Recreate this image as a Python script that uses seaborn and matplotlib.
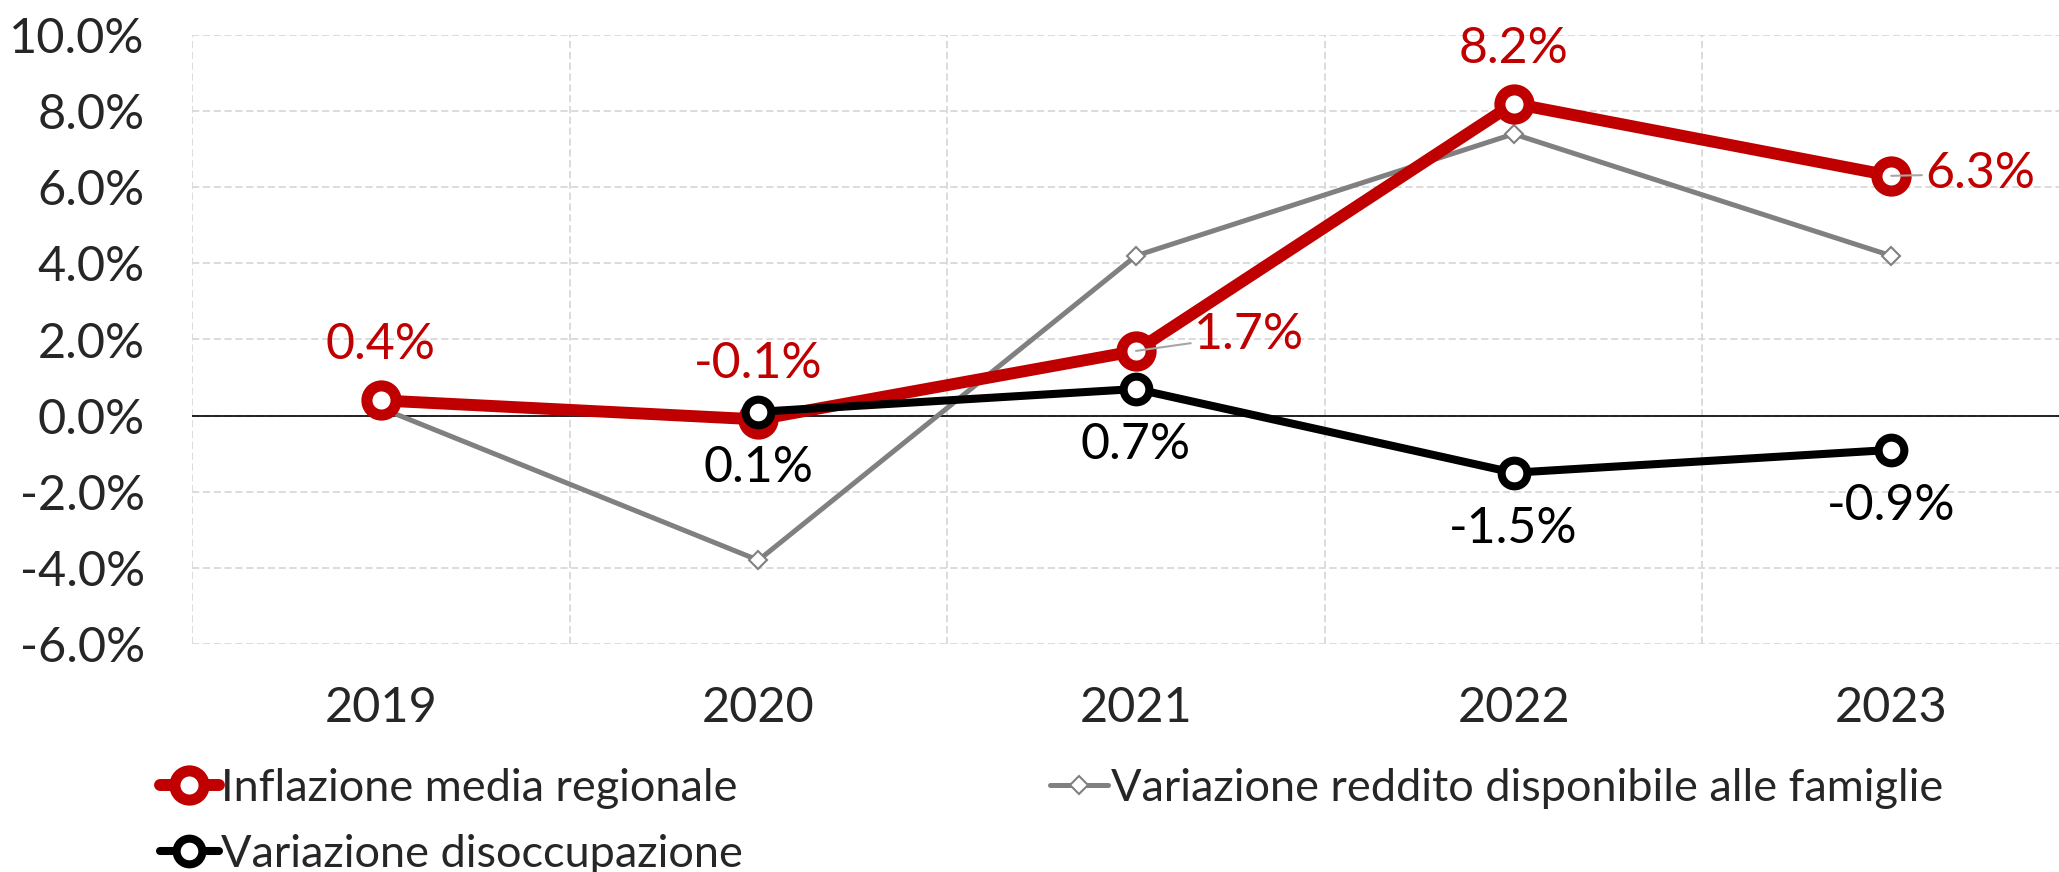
import matplotlib
import matplotlib.pyplot as plt
import numpy as np
import pandas as pd
import seaborn as sns

matplotlib.use('agg')

years = [2019, 2020, 2021, 2022, 2023]
inflazione = [0.4, -0.1, 1.7, 8.2, 6.3]
reddito = [0.2, -3.8, 4.2, 7.4, 4.2]
disoccupazione = [np.nan, 0.1, 0.7, -1.5, -0.9]

lab_infl = "Inflazione media regionale"
lab_redd = "Variazione reddito disponibile alle famiglie"
lab_dis = "Variazione disoccupazione"

RED = "#C00000"
GRAY = "#808080"

sns.set_style("white")
plt.rcParams['font.family'] = ['Lato', 'DejaVu Sans']

df = pd.DataFrame({"anno": years, "infl": inflazione, "redd": reddito, "dis": disoccupazione})

fig = plt.figure(figsize=(20.59, 8.72), dpi=100)
ax = fig.add_axes([192 / 2059, 1 - 644 / 872, (2080 - 192) / 2059, (644 - 35) / 872])

sns.lineplot(data=df, x="anno", y="redd", ax=ax, color=GRAY, linewidth=3.6,
             marker="D", markersize=9, markerfacecolor="white",
             markeredgecolor=GRAY, markeredgewidth=1.5, label=lab_redd, zorder=3)
sns.lineplot(data=df, x="anno", y="infl", ax=ax, color=RED, linewidth=8.6,
             marker="o", markersize=21, markerfacecolor="white",
             markeredgecolor=RED, markeredgewidth=8, label=lab_infl, zorder=4)
sns.lineplot(data=df.dropna(), x="anno", y="dis", ax=ax, color="black", linewidth=5.8,
             marker="o", markersize=18.5, markerfacecolor="white",
             markeredgecolor="black", markeredgewidth=5.8, label=lab_dis, zorder=5)

ax.axhline(0, color="black", linewidth=1.2, zorder=2)

ax.set_xlim(2018.5, 2023.5)
ax.set_ylim(-6, 10)
ax.set_xticks(years)
ax.set_xticks([y + 0.5 for y in years[:-1]] + [2018.5], minor=True)
ax.set_yticks(np.arange(-6, 10.1, 2))
ax.set_yticklabels([f"{v:.1f}%" for v in np.arange(-6, 10.1, 2)])
ax.grid(False)
ax.grid(axis="y", which="major", color="#d9d9d9", linestyle=(0, (4, 2)), linewidth=1.3)
ax.grid(axis="x", which="minor", color="#d9d9d9", linestyle=(0, (4, 2)), linewidth=1.3)
for s in ax.spines.values():
    s.set_visible(False)
ax.tick_params(axis="both", which="both", length=0)
ax.tick_params(axis="y", labelsize=35, pad=34)
ax.tick_params(axis="x", labelsize=35, pad=30)
ax.set_xlabel("")
ax.set_ylabel("")

# etichette dei valori
right_offsets = {2021: (58, 16), 2023: (34, 2)}
for x, v in zip(years, inflazione):
    if x in right_offsets:
        ax.annotate(f"{v:.1f}%", (x, v), xytext=right_offsets[x], textcoords="offset pixels",
                    color=RED, fontsize=36, ha="left", va="center", zorder=6,
                    arrowprops=dict(arrowstyle="-", color="#a6a6a6", lw=1.5, shrinkA=0, shrinkB=0))
    else:
        ax.annotate(f"{v:.1f}%", (x, v), xytext=(0, 55), textcoords="offset pixels",
                    color=RED, fontsize=36, ha="center", va="center", zorder=6)
for x, v in zip(years, disoccupazione):
    if np.isnan(v):
        continue
    ax.annotate(f"{v:.1f}%", (x, v), xytext=(0, -56), textcoords="offset pixels",
                color="black", fontsize=36, ha="center", va="center", zorder=6)

handles, labels = ax.get_legend_handles_labels()
order = [labels.index(lab_infl), labels.index(lab_dis), labels.index(lab_redd)]
ax.legend([handles[i] for i in order], [labels[i] for i in order],
          loc="upper left", bbox_to_anchor=(160 / 2059, 1 - 768 / 872),
          bbox_transform=fig.transFigure, ncol=2, frameon=False, fontsize=32.5,
          handlelength=1.3, handletextpad=0.05, columnspacing=6.8, labelspacing=0.55,
          borderaxespad=0, borderpad=0)

fig.savefig("out.png", dpi=100)
